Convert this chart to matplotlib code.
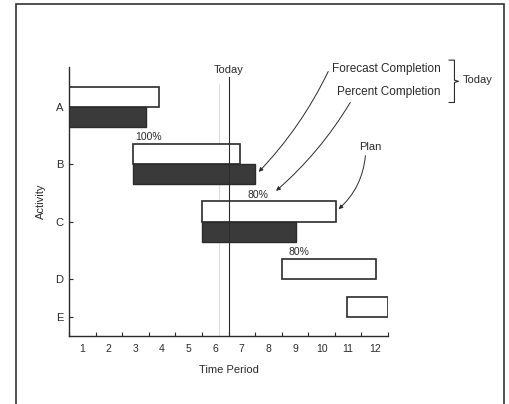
import numpy as np
import matplotlib
matplotlib.use("Agg")
from matplotlib import pyplot as plt
from matplotlib.patches import Rectangle

plt.rcParams["font.family"] = ["Liberation Sans", "DejaVu Sans"]
plt.rcParams["font.size"] = 8

# activities and their row positions (E sits a bit closer to D)
activities = ["A", "B", "C", "D", "E"]
activity_pos = [0, 1, 2, 3, 3.66]

# planned schedule (white bars)
plan_start = [0, 2.4, 5.0, 8.0, 10.45]
plan_end = [3.4, 6.45, 10.05, 11.55, 12.0]

# actual progress (dark bars) for A, B, C
actual_pos = [0, 1, 2]
actual_start = [0, 2.4, 5.0]
actual_end = [2.9, 7.0, 8.55]
percent_done = [100, 80, 80]

periods = list(range(1, 13))
today = 6.0

ink = "#2b2b2b"
bar_h = 0.35

fig = plt.figure(figsize=(5.09, 4.04), dpi=100)
ax = fig.add_axes([69 / 509, 1 - 336 / 404, (388 - 69) / 509, (336 - 67) / 404])

# plan bars sit above the row, actual bars below
ax.barh(np.array(activity_pos) - bar_h / 2, np.array(plan_end) - np.array(plan_start),
        left=plan_start, height=bar_h, color="white", edgecolor=ink, linewidth=1.2, zorder=2)
ax.barh(np.array(actual_pos) + bar_h / 2, np.array(actual_end) - np.array(actual_start),
        left=actual_start, height=bar_h, color="#3a3a3a", edgecolor=ink, linewidth=1.0, zorder=3)

for pos, end, pct in zip(actual_pos, actual_end, percent_done):
    ax.text(end + 0.1, pos + 0.53, f"{pct}%", ha="center", va="center", color=ink, fontsize=7.5)

ax.set_xlim(0, 12)
ax.set_ylim(4.0, -0.7)

# today line (+ faint scan ghost next to it)
ax.plot([today - 0.35, today - 0.35], [-0.4, 4.0], color="#d5d5d5", lw=0.6, zorder=1)
ax.plot([today, today], [-0.52, 4.0], color=ink, lw=0.8, zorder=4)
ax.text(today, -0.64, "Today", ha="center", va="center", color=ink, clip_on=False)

# axes styling
for s in ["top", "right"]:
    ax.spines[s].set_visible(False)
for s in ["left", "bottom"]:
    ax.spines[s].set_color(ink)
    ax.spines[s].set_linewidth(1.0)

ax.set_xticks(range(0, 13))
ax.set_xticklabels([])
ax.set_xticks(np.array(periods) - 0.5, minor=True)
ax.set_xticklabels([str(p) for p in periods], minor=True)
ax.tick_params(axis="x", which="major", direction="in", length=3, color=ink)
ax.tick_params(axis="x", which="minor", length=0, pad=6, labelsize=7.5, labelcolor=ink)

ax.set_yticks(activity_pos)
ax.set_yticklabels(activities)
ax.tick_params(axis="y", direction="in", length=3, pad=4, color=ink, labelsize=8, labelcolor=ink)

ax.set_xlabel("Time Period", color=ink, labelpad=8)
ax.set_ylabel("Activity", color=ink, labelpad=7)

# legend-like notes at top right
ax.text(13.97, -0.67, "Forecast Completion", ha="right", va="center", color=ink,
        fontsize=8.5, clip_on=False)
ax.text(13.97, -0.26, "Percent Completion", ha="right", va="center", color=ink,
        fontsize=8.5, clip_on=False)
ax.plot([14.3, 14.5, 14.5, 14.65, 14.5, 14.5, 14.3],
        [-0.82, -0.82, -0.47, -0.45, -0.43, -0.08, -0.08],
        color=ink, lw=0.8, clip_on=False)
ax.text(14.83, -0.47, "Today", ha="left", va="center", color=ink, clip_on=False)
ax.text(11.35, 0.7, "Plan", ha="center", va="center", color=ink)

arrow = dict(arrowstyle="-|>", color=ink, lw=0.7, mutation_scale=6, shrinkA=0, shrinkB=1)
ax.annotate("", xy=(actual_end[1] + 0.1, 1.15), xytext=(9.75, -0.62),
            arrowprops=dict(arrow, connectionstyle="arc3,rad=-0.08"), annotation_clip=False)
ax.annotate("", xy=(7.75, 1.48), xytext=(10.58, -0.08),
            arrowprops=dict(arrow, connectionstyle="arc3,rad=-0.08"), annotation_clip=False)
ax.annotate("", xy=(plan_end[2] + 0.05, 1.8), xytext=(11.15, 0.85),
            arrowprops=dict(arrow, connectionstyle="arc3,rad=-0.2"), annotation_clip=False)

# outer frame of the figure
fig.patches.append(Rectangle((16 / 509, -0.05), (504 - 16) / 509, 1 - 4 / 404 + 0.05,
                             transform=fig.transFigure, fill=False, edgecolor="#333333", lw=1.2))

fig.savefig("out.png", dpi=100)
